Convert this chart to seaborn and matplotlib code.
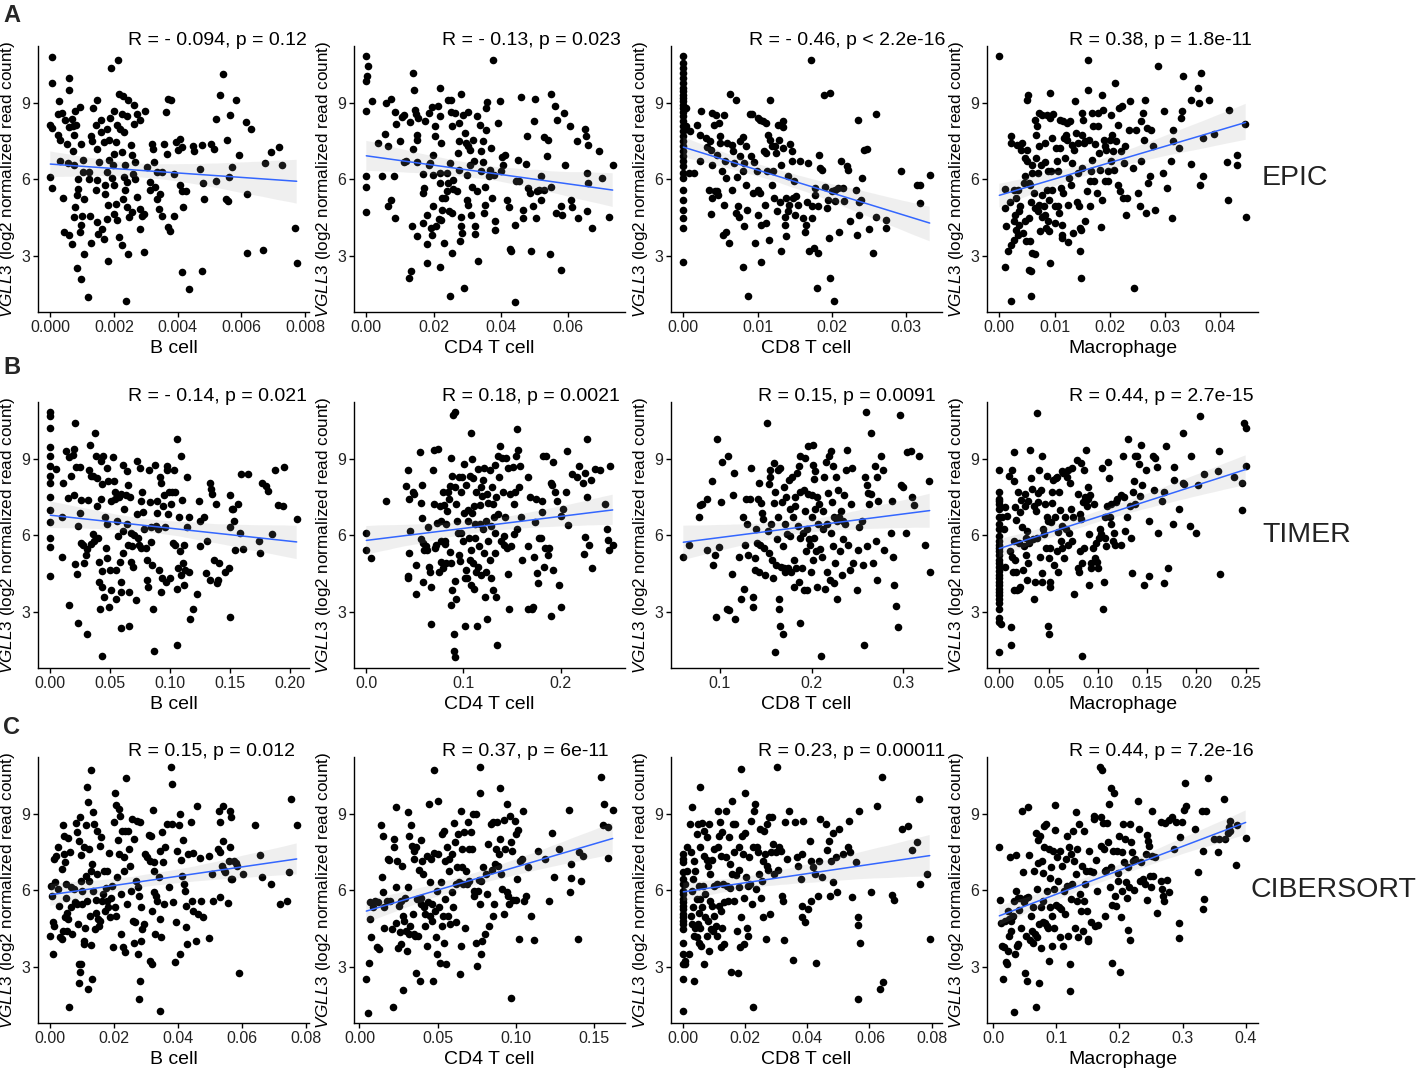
import matplotlib
matplotlib.use("Agg")
import matplotlib.pyplot as plt
import seaborn as sns
import pandas as pd
from matplotlib.collections import PolyCollection
from matplotlib.ticker import FormatStrFormatter

sns.set_style("ticks")
plt.rcParams['font.family'] = ['Liberation Sans', 'DejaVu Sans']
plt.rcParams['mathtext.fontset'] = 'custom'
plt.rcParams['mathtext.it'] = 'Liberation Sans:italic'
plt.rcParams['mathtext.rm'] = 'Liberation Sans'

# ---------------- data ----------------
row_names = ["EPIC", "TIMER", "CIBERSORT"]
cell_types = ["B cell", "CD4 T cell", "CD8 T cell", "Macrophage"]
stats = [
    ["R = - 0.094, p = 0.12", "R = - 0.13, p = 0.023", "R = - 0.46, p < 2.2e-16", "R = 0.38, p = 1.8e-11"],
    ["R = - 0.14, p = 0.021", "R = 0.18, p = 0.0021", "R = 0.15, p = 0.0091", "R = 0.44, p = 2.7e-15"],
    ["R = 0.15, p = 0.012", "R = 0.37, p = 6e-11", "R = 0.23, p = 0.00011", "R = 0.44, p = 7.2e-16"],
]
x_ticks = [
    [[0, 0.002, 0.004, 0.006, 0.008], [0, 0.02, 0.04, 0.06], [0, 0.01, 0.02, 0.03], [0, 0.01, 0.02, 0.03, 0.04]],
    [[0, 0.05, 0.10, 0.15, 0.20], [0.0, 0.1, 0.2], [0.1, 0.2, 0.3], [0, 0.05, 0.10, 0.15, 0.20, 0.25]],
    [[0, 0.02, 0.04, 0.06, 0.08], [0, 0.05, 0.10, 0.15], [0, 0.02, 0.04, 0.06, 0.08], [0.0, 0.1, 0.2, 0.3, 0.4]],
]
x_fmt = [["%.3f", "%.2f", "%.2f", "%.2f"],
         ["%.2f", "%.1f", "%.1f", "%.2f"],
         ["%.2f", "%.2f", "%.2f", "%.1f"]]
y_ticks = [3, 6, 9]

epic_b = [(0.00004,10.8),(0.00004,9.8),(0.0,8.15),(0.00004,8.0),(0.0,6.1),(0.00004,5.67),(0.00059,10.0),(0.00059,9.5),(0.00026,9.07),(0.00023,8.58),(0.00036,8.6),(0.00047,8.32),(0.00067,8.36),(0.00059,8.06),(0.0007,8.08),(0.00081,8.15),(0.00092,8.84),(0.00077,8.67),(0.00025,7.73),(0.00031,7.53),(0.00051,7.4),(0.00075,7.73),(0.0007,7.1),(0.00096,7.4),(0.00031,6.72),(0.00054,6.65),(0.00075,6.58),(0.00104,6.76),(0.00104,6.29),(0.00087,6.0),(0.0004,5.27),(0.00044,3.93),(0.00059,3.82),(0.00068,3.47),(0.00073,4.52),(0.00077,4.91),(0.00083,5.37),(0.00088,5.63),(0.00096,4.19),(0.00101,4.58),(0.00106,5.24),(0.00094,3.93),(0.00085,2.53),(0.00096,2.1),(0.00106,3.06),(0.00119,1.37),(0.00125,4.58),(0.0012,6.03),(0.0012,6.29),(0.00132,7.49),(0.00129,7.7),(0.00144,8.12),(0.00134,8.8),(0.00148,9.1),(0.00158,8.32),(0.00158,7.86),(0.00146,7.2),(0.00153,6.68),(0.00148,5.96),(0.00142,5.57),(0.00148,4.32),(0.00163,4.06),(0.0015,3.86),(0.00127,3.51),(0.00177,4.45),(0.00181,2.81),(0.00168,3.67),(0.00182,4.98),(0.00171,5.43),(0.00171,5.76),(0.00179,6.29),(0.00184,6.75),(0.00168,7.47),(0.00184,7.53),(0.00179,7.96),(0.00189,8.41),(0.00191,10.38),(0.002,8.67),(0.0021,8.12),(0.00205,7.47),(0.002,7.0),(0.00198,6.55),(0.00194,6.05),(0.002,5.76),(0.00205,5.04),(0.002,4.65),(0.0021,4.39),(0.00215,3.73),(0.00226,3.44),(0.00212,10.69),(0.00216,9.37),(0.00229,9.28),(0.00224,8.58),(0.0022,7.99),(0.00241,8.49),(0.00245,9.1),(0.00233,7.86),(0.00226,7.07),(0.00236,6.55),(0.00231,6.09),(0.00241,5.9),(0.00236,5.57),(0.00229,5.24),(0.00241,4.91),(0.00246,4.52),(0.00244,3.08),(0.00238,1.24),(0.00257,4.71),(0.00264,8.91),(0.00272,8.58),(0.00262,8.19),(0.00252,7.36),(0.00257,6.97),(0.00267,6.68),(0.0026,6.22),(0.00267,6.03),(0.00272,5.3),(0.00281,4.84),(0.00288,4.58),(0.00281,8.35),(0.00283,4.06),(0.00296,8.67),(0.00293,4.65),(0.00295,3.14),(0.00304,6.48),(0.00314,5.9),(0.00312,5.57),(0.00319,7.4),(0.00324,7.18),(0.00327,6.68),(0.00335,6.29),(0.00328,5.7),(0.00335,5.24),(0.0034,4.82),(0.0035,6.29),(0.00345,5.43),(0.0035,4.58),(0.00358,7.4),(0.00362,8.65),(0.00371,9.17),(0.00379,9.1),(0.00366,7.0),(0.00371,4.12),(0.00376,3.99),(0.00389,4.58),(0.00387,6.22),(0.00395,7.47),(0.00402,7.14),(0.00406,5.76),(0.00408,7.6),(0.00413,7.27),(0.00413,5.54),(0.00418,4.91),(0.00413,2.38),(0.00426,5.54),(0.00435,1.7),(0.00449,7.31),(0.00452,7.1),(0.0047,6.42),(0.00477,7.34),(0.0048,5.86),(0.00483,5.21),(0.00477,2.42),(0.00504,7.4),(0.00515,7.2),(0.0052,5.93),(0.00522,8.38),(0.00532,9.33),(0.00541,10.15),(0.00551,5.21),(0.00558,5.14),(0.00556,7.53),(0.00562,6.09),(0.00566,8.54),(0.00571,6.48),(0.00582,9.1),(0.00593,6.97),(0.00614,8.25),(0.00618,5.43),(0.00619,3.11),(0.00631,7.99),(0.00668,3.24),(0.00675,6.65),(0.00694,7.07),(0.00718,7.27),(0.00728,6.55),(0.00769,4.09),(0.00774,2.71)]

epic_cd4 = [(0.0,10.83),(0.0005,10.44),(0.0002,10.05),(0.0,9.85),(0.0,8.7),(0.0,6.12),(0.0,5.7),(0.0,4.72),(0.0017,9.09),(0.0034,7.43),(0.0047,6.12),(0.0056,7.78),(0.0059,9.0),(0.0064,4.94),(0.0064,7.33),(0.0074,9.17),(0.0074,5.2),(0.0082,6.12),(0.0084,4.5),(0.0086,8.65),(0.0089,8.17),(0.0101,7.49),(0.0105,8.44),(0.0113,8.54),(0.0111,6.7),(0.0117,6.73),(0.0128,2.12),(0.0132,2.41),(0.0131,8.25),(0.0137,4.15),(0.014,10.18),(0.0143,9.52),(0.0145,8.74),(0.0147,8.57),(0.015,7.56),(0.014,7.2),(0.0152,6.7),(0.015,3.76),(0.0153,8.41),(0.0152,7.73),(0.0167,4.28),(0.0169,5.46),(0.0171,5.66),(0.0169,6.21),(0.0175,8.28),(0.0179,2.71),(0.0179,3.46),(0.0179,4.6),(0.0185,8.61),(0.0186,6.58),(0.0189,6.64),(0.0194,8.83),(0.0194,3.82),(0.0193,4.09),(0.0199,6.97),(0.0199,6.16),(0.0199,4.94),(0.0204,7.69),(0.0204,8.08),(0.0206,4.15),(0.0212,8.87),(0.022,9.59),(0.0219,8.48),(0.0222,7.43),(0.022,6.25),(0.022,5.85),(0.0224,5.27),(0.0226,4.81),(0.0222,4.41),(0.0216,4.45),(0.0219,2.54),(0.0231,3.5),(0.0234,5.27),(0.0241,5.53),(0.0244,5.85),(0.0239,6.25),(0.0244,9.13),(0.0252,9.13),(0.0252,8.65),(0.0256,8.08),(0.0248,6.64),(0.0246,4.74),(0.0254,4.67),(0.0258,5.99),(0.0258,5.63),(0.0254,3.1),(0.0249,1.4),(0.0264,8.61),(0.0268,5.53),(0.0271,7.03),(0.0275,7.49),(0.0274,6.38),(0.0276,8.21),(0.0281,9.35),(0.0281,4.54),(0.0281,4.15),(0.0283,3.89),(0.0278,3.56),(0.029,1.72),(0.0288,8.54),(0.0293,7.82),(0.0295,7.43),(0.0301,7.3),(0.0298,5.2),(0.0302,5.0),(0.0298,6.16),(0.0302,8.65),(0.0308,7.17),(0.0308,6.58),(0.0311,4.6),(0.0318,7.56),(0.032,6.73),(0.0313,5.72),(0.0322,4.15),(0.0324,3.85),(0.0328,5.53),(0.0332,2.8),(0.0328,8.48),(0.0338,8.15),(0.034,7.13),(0.0342,6.31),(0.0347,7.49),(0.0347,6.7),(0.0352,5.0),(0.035,4.67),(0.0354,5.72),(0.0357,8.8),(0.0357,7.95),(0.036,9.04),(0.0364,6.12),(0.0367,6.38),(0.037,7.23),(0.0372,5.27),(0.0377,10.7),(0.038,6.18),(0.0382,4.02),(0.0382,4.35),(0.0392,8.21),(0.0397,9.09),(0.04,6.31),(0.0403,6.86),(0.0406,6.58),(0.0411,6.97),(0.0419,5.2),(0.0424,4.9),(0.0426,3.27),(0.0431,3.17),(0.0441,4.22),(0.0441,1.2),(0.0446,5.92),(0.0451,6.77),(0.0455,5.92),(0.0461,9.22),(0.0465,4.48),(0.0465,4.81),(0.0473,6.6),(0.0477,7.69),(0.0481,5.66),(0.0485,5.46),(0.0488,3.17),(0.0495,4.94),(0.0498,8.28),(0.05,9.17),(0.0505,4.5),(0.0508,5.55),(0.0512,5.59),(0.0518,6.12),(0.052,5.2),(0.0529,7.65),(0.0529,5.59),(0.0537,6.9),(0.0539,7.56),(0.0545,3.06),(0.0549,5.72),(0.0549,9.35),(0.0562,8.87),(0.0567,8.35),(0.0564,4.67),(0.0579,2.45),(0.0577,4.94),(0.0581,4.6),(0.0587,8.61),(0.0589,6.58),(0.0606,8.08),(0.0607,5.2),(0.061,4.9),(0.0625,7.49),(0.0628,4.5),(0.065,7.98),(0.0653,7.69),(0.0656,6.25),(0.0658,5.85),(0.066,7.36),(0.0656,4.74),(0.0672,4.09),(0.0692,7.13),(0.0699,6.05),(0.0722,4.54),(0.0732,6.55)]

epic_cd8 = [(0,10.83),(0,10.57),(0,10.38),(0,10.18),(0,9.98),(0,9.79),(0,9.59),(0,9.46),(0,9.33),(0,9.2),(0,9.07),(0,8.93),(0,8.8),(0,8.65),(0,8.48),(0,8.28),(0,8.08),(0,7.89),(0,7.69),(0,7.49),(0,7.3),(0,7.1),(0,6.9),(0,6.71),(0,6.51),(0,6.25),(0,6.05),(0,5.59),(0,5.2),(0,4.81),(0,4.48),(0,4.09),(0,2.77),(0.0004,8.8),(0.0003,8.1),(0.0009,7.91),(0.0008,6.25),(0.0014,6.25),(0.0018,8.12),(0.0024,8.7),(0.0022,6.73),(0.0023,7.75),(0.003,7.62),(0.0032,7.26),(0.0036,7.49),(0.0037,7.17),(0.0039,8.61),(0.0041,8.15),(0.0035,5.59),(0.0037,4.64),(0.0038,6.58),(0.0039,5.26),(0.0043,5.53),(0.0044,8.52),(0.0045,6.97),(0.0046,5.53),(0.0048,8.21),(0.0049,7.69),(0.005,7.43),(0.0047,5.4),(0.0052,6.31),(0.0055,8.52),(0.0056,6.71),(0.0057,6.05),(0.0055,5.0),(0.0054,3.82),(0.0058,3.95),(0.0059,7.43),(0.0062,3.5),(0.0063,9.35),(0.0065,7.36),(0.0065,5.59),(0.0068,6.64),(0.0067,7.1),(0.0071,9.13),(0.0071,4.67),(0.0072,6.08),(0.0074,4.94),(0.0075,4.54),(0.0076,7.49),(0.0077,6.9),(0.008,7.65),(0.0081,6.31),(0.0082,6.64),(0.0082,4.15),(0.0081,2.54),(0.0084,7.3),(0.0085,5.79),(0.0086,4.81),(0.0087,1.4),(0.009,8.57),(0.0091,6.9),(0.0093,8.57),(0.0094,5.46),(0.0095,6.68),(0.0096,3.5),(0.0099,6.31),(0.01,4.61),(0.0101,8.41),(0.0101,5.59),(0.0103,8.34),(0.0104,5.46),(0.0105,4.22),(0.0105,2.75),(0.0108,8.28),(0.0109,7.1),(0.011,5.0),(0.0111,8.21),(0.0111,4.28),(0.0112,7.03),(0.0113,6.31),(0.0114,7.75),(0.0116,3.63),(0.0117,9.13),(0.0117,7.56),(0.0119,5.79),(0.012,7.3),(0.0121,6.31),(0.0122,5.26),(0.0123,7.3),(0.0125,7.03),(0.0126,4.74),(0.0128,8.15),(0.0129,7.56),(0.013,5.13),(0.0131,3.17),(0.0132,6.58),(0.0134,7.23),(0.0135,8.28),(0.0135,8.04),(0.0137,4.54),(0.0137,4.22),(0.0138,5.26),(0.0139,3.76),(0.0141,6.12),(0.0141,4.74),(0.0143,5.0),(0.0144,7.39),(0.0146,7.1),(0.0147,6.71),(0.0148,5.26),(0.0149,5.92),(0.015,4.61),(0.0152,5.33),(0.0155,5.0),(0.0157,6.71),(0.0161,4.48),(0.0164,3.95),(0.0165,4.22),(0.0166,5.13),(0.0168,6.64),(0.017,3.17),(0.0172,10.7),(0.0173,4.94),(0.0174,4.48),(0.0176,3.3),(0.0177,5.66),(0.0178,5.4),(0.018,1.73),(0.0181,4.94),(0.0182,3.1),(0.0183,6.97),(0.0184,6.44),(0.0187,6.38),(0.0189,9.3),(0.0191,5.72),(0.0193,4.87),(0.0195,5.2),(0.0196,3.69),(0.0197,2.12),(0.0198,9.39),(0.02,5.53),(0.0203,1.23),(0.0204,5.59),(0.0205,5.16),(0.0209,5.66),(0.021,3.95),(0.0212,6.71),(0.0215,5.66),(0.0216,5.16),(0.0221,6.51),(0.0222,6.38),(0.0225,4.35),(0.0233,5.59),(0.0234,3.82),(0.0235,8.34),(0.0237,5.13),(0.0237,4.61),(0.0239,5.2),(0.0241,6.05),(0.0243,7.17),(0.0247,7.2),(0.025,4.06),(0.0255,3.1),(0.026,8.57),(0.0259,4.54),(0.0273,4.41),(0.0273,4.09),(0.0294,6.31),(0.0315,5.79),(0.0319,5.79),(0.0319,5.07),(0.0332,6.18)]

epic_mac = [(0.0,10.83),(0.0011,5.63),(0.001,4.87),(0.001,2.54),(0.0013,4.15),(0.0016,3.17),(0.002,5.13),(0.0022,1.23),(0.0022,3.43),(0.0022,7.69),(0.0022,7.43),(0.0026,5.59),(0.0026,4.35),(0.0026,3.63),(0.0029,4.61),(0.003,4.02),(0.003,5.26),(0.0032,7.36),(0.0034,3.82),(0.0034,5.59),(0.0035,4.74),(0.0036,4.22),(0.0038,4.94),(0.004,7.17),(0.0041,7.43),(0.0042,3.89),(0.0044,5.85),(0.0046,4.35),(0.0047,6.84),(0.0047,6.12),(0.0048,3.59),(0.005,7.17),(0.005,6.71),(0.005,9.13),(0.0052,9.33),(0.0053,4.48),(0.0053,5.85),(0.0054,2.45),(0.0056,5.79),(0.0056,3.56),(0.0058,2.41),(0.0058,1.4),(0.0058,5.13),(0.0059,6.58),(0.006,6.25),(0.006,3.1),(0.0062,5.46),(0.0064,4.87),(0.0065,3.06),(0.0065,8.34),(0.0066,7.75),(0.0066,6.84),(0.0068,8.08),(0.007,6.25),(0.007,4.74),(0.0071,7.3),(0.0072,5.0),(0.0072,8.61),(0.0074,3.98),(0.0076,6.58),(0.0077,4.54),(0.0077,8.54),(0.0078,5.4),(0.008,4.94),(0.0082,4.61),(0.0083,7.43),(0.0083,6.68),(0.0084,4.09),(0.0086,8.54),(0.0086,5.59),(0.0088,6.31),(0.0089,4.37),(0.009,5.2),(0.009,3.98),(0.0092,9.39),(0.0092,8.41),(0.0092,2.71),(0.0094,6.31),(0.0095,7.62),(0.0096,5.59),(0.0098,8.57),(0.01,4.94),(0.0101,4.28),(0.0102,7.23),(0.0104,6.71),(0.0106,6.31),(0.0107,4.94),(0.0108,4.67),(0.011,8.34),(0.011,7.23),(0.0112,5.66),(0.0113,4.22),(0.0113,3.82),(0.0114,3.69),(0.0116,8.28),(0.0116,5.46),(0.0118,7.62),(0.0119,6.84),(0.012,7.75),(0.0122,8.21),(0.0122,7.56),(0.0124,3.53),(0.0125,5.0),(0.0126,6.05),(0.0128,8.28),(0.013,5.79),(0.0131,7.36),(0.0132,6.64),(0.0134,3.89),(0.0136,7.17),(0.0137,9.09),(0.0138,7.82),(0.014,5.13),(0.0142,7.43),(0.0143,6.25),(0.0144,4.94),(0.0146,4.09),(0.0146,3.17),(0.0148,2.12),(0.0148,4.02),(0.0149,7.75),(0.0149,8.61),(0.015,6.44),(0.0152,8.34),(0.0154,7.43),(0.0155,7.49),(0.0156,4.35),(0.0158,5.53),(0.016,9.52),(0.0161,10.7),(0.0162,7.56),(0.0164,5.92),(0.0164,4.94),(0.0166,6.31),(0.0167,8.61),(0.0168,6.77),(0.017,8.08),(0.0172,5.92),(0.0174,7.39),(0.0176,5.46),(0.0178,8.08),(0.0179,8.61),(0.018,7.03),(0.0182,6.38),(0.0184,4.11),(0.0185,5.2),(0.0186,9.33),(0.0188,8.74),(0.019,7.56),(0.0191,7.3),(0.0192,5.92),(0.0194,7.17),(0.0196,6.31),(0.0197,5.92),(0.02,7.56),(0.0202,6.71),(0.0203,8.54),(0.0204,7.75),(0.0206,7.1),(0.0208,6.38),(0.021,9.79),(0.0212,7.49),(0.0214,5.79),(0.0215,8.15),(0.0216,8.8),(0.0218,5.53),(0.0221,7.1),(0.0222,8.87),(0.0224,5.26),(0.0226,6.64),(0.0227,7.3),(0.023,4.61),(0.0232,5.26),(0.0234,7.95),(0.0236,9.09),(0.0242,6.44),(0.0244,1.73),(0.0248,7.95),(0.0251,5.46),(0.0254,4.94),(0.0256,8.28),(0.0257,6.71),(0.026,8.61),(0.0262,7.56),(0.0263,9.13),(0.0266,4.67),(0.0268,8.02),(0.027,5.85),(0.0272,6.12),(0.0275,7.95),(0.0278,7.3),(0.0281,4.81),(0.0287,10.44),(0.0296,6.25),(0.0299,8.7),(0.0304,5.66),(0.031,6.71),(0.0312,4.48),(0.0314,7.95),(0.0314,7.49),(0.0326,7.23),(0.0329,8.41),(0.033,8.7),(0.0332,10.05),(0.0347,9.13),(0.0347,6.6),(0.036,9.59),(0.0362,9.0),(0.0364,5.79),(0.0366,10.18),(0.0368,7.62),(0.0368,6.12),(0.038,9.13),(0.0389,7.78),(0.0413,6.68),(0.0414,5.2),(0.0416,8.74),(0.043,6.97),(0.043,6.55),(0.0444,8.17),(0.0446,4.54)]

timer_b = [(0,10.84),(0,10.68),(0,10.2),(0,9.48),(0,9.13),(0,8.71),(0,8.33),(0,8.04),(0,7.51),(0,7.0),(0,6.53),(0,5.91),(0,5.53),(0,4.41),(0.0047,8.6),(0.0094,6.71),(0.0094,5.17),(0.0108,8.07),(0.013,9.31),(0.0144,7.48),(0.0158,3.27),(0.0158,9.08),(0.0172,8.33),(0.0186,9.17),(0.0194,7.57),(0.02,9.4),(0.0205,10.41),(0.0205,4.87),(0.0213,8.68),(0.0222,4.47),(0.0227,2.55),(0.0233,6.37),(0.0244,8.68),(0.0249,6.87),(0.0255,5.71),(0.026,7.4),(0.0269,5.64),(0.0283,4.91),(0.0296,5.24),(0.0305,5.48),(0.031,2.11),(0.0316,7.4),(0.0324,8.57),(0.0332,9.57),(0.0338,5.67),(0.0343,8.33),(0.0352,6.04),(0.036,8.33),(0.0366,5.77),(0.0371,10.01),(0.0379,9.11),(0.0388,8.24),(0.0393,7.17),(0.0399,5.91),(0.0407,4.17),(0.041,4.97),(0.0416,3.11),(0.0421,7.44),(0.0421,8.91),(0.0427,4.6),(0.0427,1.27),(0.0435,8.01),(0.0435,3.97),(0.0443,9.11),(0.0449,3.57),(0.0454,6.71),(0.0463,5.51),(0.0471,6.44),(0.0476,8.64),(0.0476,5.11),(0.0482,8.15),(0.049,3.17),(0.0499,4.64),(0.0504,7.37),(0.051,3.84),(0.0526,9.08),(0.0532,8.15),(0.0537,7.71),(0.0537,7.44),(0.0546,4.64),(0.0546,3.51),(0.056,6.57),(0.0565,5.97),(0.0573,7.51),(0.0582,4.97),(0.0587,7.64),(0.0593,2.37),(0.0593,3.77),(0.0593,4.17),(0.0609,8.77),(0.0609,6.17),(0.0609,5.31),(0.0615,7.04),(0.0629,7.57),(0.0637,8.51),(0.0643,6.44),(0.0648,7.97),(0.0648,5.64),(0.0656,2.44),(0.0656,3.77),(0.0665,7.51),(0.067,6.11),(0.0676,4.97),(0.0684,5.57),(0.0693,4.77),(0.0698,6.01),(0.0712,3.48),(0.072,8.91),(0.0726,6.84),(0.0731,5.91),(0.074,5.64),(0.0748,8.64),(0.0753,7.35),(0.0759,5.51),(0.0767,7.71),(0.0776,6.91),(0.0781,6.24),(0.0795,5.51),(0.0803,5.04),(0.0809,4.24),(0.0814,3.97),(0.0823,8.55),(0.0831,7.31),(0.0837,6.33),(0.0842,5.75),(0.085,4.84),(0.0859,3.11),(0.0864,1.44),(0.087,8.77),(0.0878,6.37),(0.0886,6.87),(0.0892,7.37),(0.0897,6.24),(0.0906,4.64),(0.0914,8.31),(0.092,8.04),(0.0925,3.77),(0.0933,4.31),(0.0942,7.17),(0.0947,7.57),(0.0953,6.31),(0.0961,4.17),(0.097,8.71),(0.0975,8.57),(0.0981,6.84),(0.0989,7.71),(0.0997,4.31),(0.1008,7.24),(0.1017,7.71),(0.1025,5.71),(0.103,8.57),(0.1036,5.64),(0.1044,7.71),(0.1053,1.71),(0.1058,9.8),(0.1058,3.91),(0.1064,4.71),(0.1072,6.71),(0.108,5.37),(0.1086,9.11),(0.1091,4.44),(0.11,7.4),(0.1108,4.91),(0.1114,4.04),(0.1119,5.64),(0.1127,4.64),(0.1136,8.31),(0.1141,6.31),(0.1155,6.71),(0.1155,4.57),(0.1163,2.73),(0.1191,3.11),(0.1224,3.71),(0.1238,7.35),(0.1247,5.57),(0.1252,6.55),(0.128,6.73),(0.1302,4.51),(0.1307,5.77),(0.1335,8.04),(0.1341,7.84),(0.133,4.24),(0.1349,7.64),(0.1363,5.04),(0.1385,7.24),(0.1391,4.11),(0.1396,4.24),(0.1404,4.91),(0.146,4.57),(0.1487,4.71),(0.1496,2.8),(0.1496,6.33),(0.1501,7.57),(0.1515,7.04),(0.1524,7.04),(0.153,6.57),(0.1543,5.44),(0.1562,7.24),(0.1579,6.11),(0.159,8.41),(0.1607,5.48),(0.1645,8.41),(0.1737,5.77),(0.1751,5.31),(0.1765,8.04),(0.18,7.93),(0.1812,7.75),(0.1848,6.04),(0.1875,8.57),(0.1903,7.21),(0.1939,7.17),(0.195,8.68),(0.2055,6.64)]

timer_cd4 = [(0.0,6.11),(0.0,5.44),(0.0051,5.11),(0.0205,7.35),(0.0433,8.57),(0.0406,7.93),(0.044,7.44),(0.045,6.17),(0.044,5.31),(0.0433,4.41),(0.0433,4.31),(0.0484,7.71),(0.0494,7.61),(0.0508,4.84),(0.0512,3.71),(0.0552,9.27),(0.0563,7.27),(0.0563,5.84),(0.057,6.68),(0.0576,7.97),(0.0587,5.71),(0.0587,4.17),(0.0597,5.44),(0.061,5.57),(0.0621,5.44),(0.0638,6.33),(0.0644,4.77),(0.0655,4.57),(0.0665,3.97),(0.0665,2.53),(0.0689,8.57),(0.0699,7.24),(0.0699,9.35),(0.0706,5.51),(0.0716,5.64),(0.0733,6.47),(0.074,9.4),(0.0747,4.55),(0.0757,7.17),(0.0767,6.55),(0.0774,5.77),(0.0774,4.97),(0.0791,7.71),(0.0791,4.71),(0.0801,7.21),(0.0808,5.77),(0.0815,5.67),(0.0825,4.91),(0.0825,6.44),(0.0835,6.97),(0.0842,7.71),(0.0849,7.44),(0.0859,5.35),(0.0859,7.93),(0.087,9.04),(0.0876,4.91),(0.0876,3.27),(0.0883,8.33),(0.0883,3.84),(0.0893,10.73),(0.0904,2.11),(0.091,10.84),(0.091,7.91),(0.0904,1.44),(0.091,1.24),(0.0917,4.2),(0.0928,3.51),(0.0928,7.24),(0.0938,6.55),(0.0945,6.11),(0.0951,5.24),(0.0955,8.31),(0.0962,5.0),(0.0972,7.71),(0.0979,6.11),(0.0986,8.31),(0.0996,5.77),(0.1006,8.81),(0.1006,6.87),(0.1013,4.31),(0.102,2.44),(0.103,7.97),(0.103,4.64),(0.104,4.31),(0.1047,7.0),(0.1047,6.55),(0.1054,5.91),(0.1064,8.33),(0.1064,5.04),(0.1074,10.01),(0.1074,5.44),(0.1081,4.04),(0.1088,9.0),(0.1088,6.87),(0.1098,8.24),(0.1098,4.91),(0.1108,7.17),(0.1108,3.91),(0.1115,6.44),(0.1122,5.91),(0.1132,7.71),(0.1132,4.57),(0.1142,2.44),(0.1149,4.77),(0.1149,8.6),(0.1156,5.57),(0.1166,7.21),(0.1166,6.44),(0.1176,7.91),(0.1183,4.44),(0.119,7.53),(0.12,6.24),(0.12,8.17),(0.1211,5.31),(0.1217,8.64),(0.1224,3.57),(0.1234,6.57),(0.1234,4.57),(0.1245,2.73),(0.1245,7.64),(0.1251,7.27),(0.1258,5.77),(0.1269,8.57),(0.1269,5.04),(0.1279,6.37),(0.1286,4.31),(0.1292,7.91),(0.1303,7.24),(0.1303,3.84),(0.1313,6.71),(0.132,8.77),(0.132,5.31),(0.1327,6.11),(0.1337,7.51),(0.1337,3.57),(0.1347,1.71),(0.1354,9.13),(0.1361,6.84),(0.1371,8.31),(0.1381,9.51),(0.1388,5.77),(0.1395,9.04),(0.1405,7.71),(0.1415,5.97),(0.1422,5.64),(0.1429,6.71),(0.1439,9.04),(0.1449,5.51),(0.1456,4.47),(0.1463,8.64),(0.1473,3.11),(0.1483,7.64),(0.149,5.57),(0.1507,8.68),(0.1517,7.24),(0.1524,6.04),(0.1531,7.71),(0.1541,9.11),(0.1552,10.17),(0.1552,6.24),(0.1565,9.35),(0.1575,7.91),(0.1586,8.71),(0.1592,6.71),(0.1599,5.04),(0.1661,3.11),(0.1668,8.31),(0.1668,5.57),(0.1688,7.51),(0.1702,3.11),(0.1712,3.17),(0.1722,5.17),(0.1736,6.51),(0.1746,7.44),(0.1756,4.51),(0.1763,4.11),(0.178,5.91),(0.1797,5.91),(0.1804,7.37),(0.1814,6.91),(0.1824,9.13),(0.1831,4.77),(0.1838,5.51),(0.1848,9.11),(0.1872,5.24),(0.1882,5.51),(0.1899,2.84),(0.1906,8.07),(0.1916,7.97),(0.1927,8.87),(0.1927,4.64),(0.194,7.71),(0.196,7.37),(0.1985,4.04),(0.2002,6.77),(0.2008,3.17),(0.2029,7.04),(0.2053,7.71),(0.2063,9.31),(0.2077,6.4),(0.2121,8.41),(0.2172,8.31),(0.2189,8.71),(0.2234,8.04),(0.224,5.27),(0.2247,5.94),(0.2257,8.47),(0.2268,9.8),(0.2268,7.51),(0.2292,5.64),(0.2309,8.17),(0.2326,4.73),(0.236,8.6),(0.2404,8.57),(0.2462,7.24),(0.2479,6.24),(0.2486,5.8),(0.2496,5.44),(0.2513,8.71),(0.2537,5.64)]

timer_cd8 = [(0.0604,5.17),(0.0665,5.61),(0.0774,6.73),(0.0785,7.21),(0.081,7.24),(0.0857,7.44),(0.0864,5.44),(0.0919,8.15),(0.093,4.84),(0.0944,5.24),(0.0955,2.81),(0.0966,9.8),(0.0991,5.53),(0.1009,7.31),(0.1027,8.87),(0.1081,3.11),(0.1089,9.11),(0.1099,3.08),(0.1136,4.47),(0.1146,7.57),(0.1161,8.47),(0.1172,2.73),(0.1208,5.17),(0.1233,3.51),(0.1255,6.73),(0.1269,3.91),(0.128,5.64),(0.1291,7.44),(0.1298,6.44),(0.1306,5.24),(0.1335,7.44),(0.1342,8.64),(0.1364,3.57),(0.1364,3.17),(0.139,5.11),(0.139,4.64),(0.1399,6.24),(0.1407,5.71),(0.1414,7.44),(0.1425,4.57),(0.1425,8.07),(0.1436,5.64),(0.1451,7.27),(0.1461,6.87),(0.1472,6.64),(0.1479,5.51),(0.1497,4.44),(0.1515,10.41),(0.1523,6.17),(0.1534,8.01),(0.1534,5.31),(0.1544,8.57),(0.1552,8.31),(0.1559,6.44),(0.157,5.04),(0.158,4.31),(0.1588,8.84),(0.1595,7.27),(0.1606,1.4),(0.1606,7.71),(0.1617,4.84),(0.162,5.84),(0.1631,8.55),(0.1631,6.71),(0.1642,3.51),(0.1642,3.11),(0.1653,8.64),(0.166,2.44),(0.1667,4.77),(0.1678,7.31),(0.1689,2.11),(0.1689,5.57),(0.1696,4.71),(0.1703,7.91),(0.1714,6.44),(0.1714,4.57),(0.1725,7.51),(0.1732,6.04),(0.174,4.71),(0.175,8.17),(0.1761,5.97),(0.1768,7.04),(0.1776,4.57),(0.1786,8.31),(0.1797,6.71),(0.1805,3.97),(0.1812,5.04),(0.1823,7.51),(0.1823,7.17),(0.1833,4.71),(0.1841,8.44),(0.1848,6.37),(0.1859,8.73),(0.1859,4.17),(0.187,9.11),(0.1877,2.55),(0.188,5.91),(0.188,7.71),(0.1895,4.71),(0.1906,6.11),(0.1913,7.77),(0.192,3.84),(0.1931,9.04),(0.1931,6.97),(0.1942,5.37),(0.1949,3.84),(0.1956,6.24),(0.1967,9.51),(0.1967,7.64),(0.1978,5.84),(0.1985,5.64),(0.1993,4.57),(0.2003,7.57),(0.2003,6.71),(0.2014,9.57),(0.2014,5.04),(0.2021,8.77),(0.2029,8.2),(0.2029,5.91),(0.204,8.51),(0.204,7.04),(0.205,5.37),(0.2058,3.97),(0.2065,7.51),(0.2076,6.44),(0.2087,7.24),(0.2094,5.48),(0.2101,1.27),(0.2112,5.17),(0.2123,6.97),(0.213,6.24),(0.2137,8.31),(0.2148,3.91),(0.2159,8.87),(0.2166,6.44),(0.2173,4.57),(0.2184,7.67),(0.2195,9.11),(0.2202,4.24),(0.2209,6.11),(0.2209,9.31),(0.222,7.31),(0.2231,8.73),(0.2238,5.57),(0.2246,6.71),(0.2246,4.11),(0.2257,4.91),(0.2268,8.31),(0.2275,6.57),(0.2282,3.51),(0.2293,7.77),(0.2304,6.71),(0.2311,5.37),(0.2318,6.97),(0.2329,4.44),(0.234,5.84),(0.2347,6.57),(0.2354,7.57),(0.2365,6.44),(0.2376,8.57),(0.2383,9.37),(0.2401,5.64),(0.2419,4.64),(0.2427,7.24),(0.2437,8.64),(0.2448,4.91),(0.2491,3.84),(0.251,5.44),(0.2521,6.31),(0.2546,6.57),(0.2564,4.84),(0.2571,1.71),(0.2582,8.31),(0.2593,10.84),(0.26,7.97),(0.2607,5.57),(0.2618,7.67),(0.2629,7.24),(0.2644,10.01),(0.2644,7.64),(0.2672,4.91),(0.269,8.71),(0.2701,5.77),(0.2709,8.31),(0.2716,4.24),(0.2727,7.37),(0.2752,9.11),(0.2781,8.57),(0.2788,5.44),(0.287,6.11),(0.2882,7.35),(0.2889,5.17),(0.2896,4.04),(0.2925,3.24),(0.2943,2.41),(0.2969,10.71),(0.298,7.97),(0.2991,7.91),(0.3034,6.11),(0.3041,9.27),(0.3088,9.31),(0.3099,7.51),(0.3113,7.21),(0.3171,9.11),(0.3233,5.64),(0.328,8.15),(0.3287,4.55)]

timer_mac = [(0,8.55),(0,7.71),(0,7.44),(0,7.35),(0,7.24),(0,7.04),(0,6.71),(0,6.44),(0,6.24),(0,5.96),(0,5.77),(0,5.64),(0,5.51),(0,5.37),(0,5.21),(0,5.04),(0,4.91),(0,4.77),(0,4.6),(0,4.44),(0,4.31),(0,4.17),(0,4.04),(0,3.91),(0,3.77),(0,3.64),(0,3.51),(0,3.35),(0,3.11),(0,2.77),(0,2.6),(0,1.4),(0.002,2.51),(0.0027,6.71),(0.0044,6.24),(0.0054,7.11),(0.0061,4.77),(0.0077,6.77),(0.0101,8.33),(0.0111,5.37),(0.0121,2.41),(0.0121,1.71),(0.0128,8.57),(0.0128,5.17),(0.0135,4.57),(0.0145,5.77),(0.0145,3.84),(0.0151,9.27),(0.0151,8.15),(0.0155,5.04),(0.0162,7.11),(0.0168,6.6),(0.0168,4.57),(0.0178,3.84),(0.0188,7.71),(0.0195,5.71),(0.0202,3.91),(0.0212,6.91),(0.0212,3.97),(0.0222,7.4),(0.0229,6.31),(0.0236,4.64),(0.0246,5.57),(0.0256,7.61),(0.0262,7.17),(0.0269,5.91),(0.0269,5.24),(0.0276,4.24),(0.0279,6.17),(0.0289,4.91),(0.0296,7.35),(0.0303,5.71),(0.0313,9.35),(0.0323,8.24),(0.033,7.84),(0.0337,5.84),(0.0347,3.51),(0.0357,7.17),(0.0363,4.17),(0.037,6.97),(0.038,10.81),(0.038,5.91),(0.039,7.67),(0.0397,7.31),(0.0404,8.57),(0.0414,5.17),(0.0424,7.77),(0.0431,9.11),(0.0431,4.51),(0.0437,4.17),(0.0448,6.24),(0.0458,6.04),(0.0464,7.24),(0.0471,5.51),(0.0481,8.33),(0.0481,6.71),(0.0491,6.57),(0.0498,2.44),(0.0505,2.11),(0.0505,5.11),(0.0515,4.17),(0.0515,3.97),(0.0515,5.51),(0.0525,6.51),(0.0532,7.27),(0.0538,7.71),(0.0548,8.17),(0.0559,4.84),(0.0565,6.71),(0.0572,8.24),(0.0582,8.31),(0.0582,5.37),(0.0592,6.15),(0.0599,4.57),(0.0606,7.71),(0.0616,7.0),(0.0626,5.77),(0.0633,8.51),(0.0633,6.37),(0.0639,5.51),(0.0649,8.44),(0.066,5.11),(0.0666,6.71),(0.0673,6.24),(0.0683,8.31),(0.0693,5.64),(0.07,8.57),(0.0707,6.11),(0.0717,8.04),(0.0727,7.04),(0.0734,5.77),(0.074,8.64),(0.075,6.73),(0.076,3.71),(0.0784,8.97),(0.0794,4.71),(0.0801,7.64),(0.0808,4.57),(0.0818,6.84),(0.0818,5.37),(0.0828,8.84),(0.0828,6.64),(0.0835,1.27),(0.0841,4.91),(0.0851,7.31),(0.0861,8.57),(0.0861,5.51),(0.0868,7.51),(0.0875,9.35),(0.0885,7.17),(0.0895,7.91),(0.0902,7.44),(0.0909,4.04),(0.0909,6.04),(0.0919,7.57),(0.0929,4.91),(0.0935,4.71),(0.0952,5.51),(0.0962,7.24),(0.0976,5.11),(0.0986,5.71),(0.0996,4.97),(0.1003,4.71),(0.101,5.91),(0.102,6.24),(0.103,6.04),(0.1043,8.64),(0.1053,3.11),(0.1063,4.17),(0.107,6.71),(0.1077,5.91),(0.1087,5.57),(0.1097,7.17),(0.1104,8.87),(0.111,8.24),(0.1121,6.71),(0.1131,7.24),(0.1137,6.44),(0.1154,5.77),(0.1164,6.11),(0.1178,5.64),(0.1188,7.31),(0.1198,7.44),(0.1232,5.64),(0.1238,7.57),(0.1255,9.11),(0.1265,7.51),(0.1272,6.17),(0.1299,6.71),(0.1306,9.8),(0.1322,7.17),(0.1333,5.91),(0.1346,4.51),(0.1356,7.71),(0.1366,8.15),(0.1373,9.11),(0.138,7.24),(0.14,9.13),(0.1413,8.81),(0.1423,7.53),(0.144,9.57),(0.1447,7.97),(0.1467,4.04),(0.1491,8.57),(0.1514,4.41),(0.1514,6.57),(0.1558,9.11),(0.1568,7.77),(0.1582,9.04),(0.1602,8.68),(0.1608,6.11),(0.1649,7.37),(0.1676,7.71),(0.1676,4.11),(0.1693,9.51),(0.1716,4.71),(0.176,6.44),(0.177,8.68),(0.1777,8.17),(0.1827,7.04),(0.1861,10.01),(0.1861,8.07),(0.1871,8.01),(0.1945,9.11),(0.1938,6.37),(0.1995,6.11),(0.2012,7.97),(0.2039,10.68),(0.208,8.41),(0.2221,8.51),(0.2231,9.31),(0.2241,4.47),(0.2382,8.31),(0.2467,8.04),(0.2467,7.0),(0.2483,10.41),(0.25,10.2),(0.25,8.71)]

cib_b = [(0.0,4.22),(0.0002,6.18),(0.0005,5.79),(0.0007,3.5),(0.0007,4.74),(0.001,4.61),(0.0012,7.23),(0.0015,6.31),(0.0018,7.36),(0.0023,7.72),(0.0025,6.05),(0.0028,5.4),(0.0031,4.15),(0.0035,4.09),(0.0038,6.84),(0.0041,4.41),(0.0041,8.58),(0.0044,8.15),(0.0044,7.43),(0.0046,7.1),(0.0046,4.94),(0.0049,6.27),(0.0049,5.72),(0.0052,4.41),(0.0052,5.13),(0.0054,8.06),(0.0056,4.87),(0.0059,1.4),(0.0062,7.49),(0.0064,6.12),(0.0066,5.33),(0.0069,4.28),(0.0073,6.05),(0.0077,5.53),(0.008,8.63),(0.0083,8.28),(0.0085,5.46),(0.0087,4.67),(0.009,7.95),(0.009,3.1),(0.009,2.38),(0.0093,2.81),(0.0093,8.9),(0.0095,6.38),(0.0095,7.4),(0.0097,3.1),(0.01,5.46),(0.01,5.99),(0.0104,4.02),(0.0104,3.89),(0.0106,7.72),(0.0108,4.54),(0.0111,6.58),(0.0111,8.58),(0.0114,10.05),(0.0116,5.59),(0.0118,9.46),(0.0118,2.12),(0.0121,7.62),(0.0121,6.38),(0.0124,5.0),(0.0126,6.77),(0.0128,10.73),(0.0128,3.86),(0.0132,2.51),(0.0132,7.03),(0.0135,9.07),(0.0135,5.99),(0.0137,8.61),(0.0139,4.48),(0.0142,5.62),(0.0142,5.13),(0.0145,8.34),(0.0147,6.64),(0.0149,4.87),(0.0152,4.61),(0.0155,7.75),(0.0157,4.81),(0.016,8.08),(0.0163,5.59),(0.0166,5.85),(0.0168,6.77),(0.017,5.2),(0.0173,6.09),(0.0176,6.75),(0.0178,5.59),(0.018,5.33),(0.0183,7.45),(0.0186,4.94),(0.0189,5.72),(0.0194,6.18),(0.0197,3.76),(0.0199,8.67),(0.0201,9.81),(0.0201,5.33),(0.0204,9.37),(0.0207,4.99),(0.0209,6.51),(0.0211,7.98),(0.0214,7.43),(0.0214,9.2),(0.0218,8.93),(0.022,5.85),(0.0222,4.28),(0.0225,8.34),(0.0228,3.76),(0.023,7.3),(0.0232,6.77),(0.0235,8.34),(0.0235,3.56),(0.0238,10.42),(0.024,5.46),(0.0242,8.34),(0.0246,7.62),(0.0249,6.97),(0.0253,5.99),(0.0256,8.8),(0.0259,4.81),(0.0261,8.02),(0.0263,3.95),(0.0266,4.74),(0.0269,6.38),(0.0271,8.74),(0.0273,6.12),(0.0273,3.5),(0.0277,5.79),(0.0277,1.73),(0.028,2.45),(0.0282,8.67),(0.0284,5.33),(0.0284,4.02),(0.0287,4.48),(0.0292,4.67),(0.0297,7.43),(0.0303,7.32),(0.0308,8.19),(0.0311,3.23),(0.0313,7.14),(0.0315,8.15),(0.0318,5.2),(0.0318,3.1),(0.0321,9.16),(0.0323,6.77),(0.0325,7.1),(0.0325,5.92),(0.0328,4.28),(0.0332,5.79),(0.0334,5.59),(0.0339,6.51),(0.0342,7.56),(0.0344,4.87),(0.0344,1.27),(0.0346,4.15),(0.0349,8.28),(0.0352,7.1),(0.0356,5.46),(0.0359,7.69),(0.0365,8.61),(0.037,6.12),(0.0377,10.86),(0.038,10.18),(0.038,8.61),(0.0383,5.53),(0.0391,3.17),(0.0394,4.74),(0.0396,7.56),(0.0404,8.58),(0.0406,9.0),(0.0406,3.5),(0.0408,7.19),(0.0411,6.58),(0.0414,7.98),(0.0419,6.25),(0.0422,5.99),(0.0425,5.4),(0.0425,4.57),(0.0427,3.89),(0.0432,7.43),(0.0439,8.67),(0.0442,5.59),(0.0445,7.45),(0.0448,5.2),(0.0456,4.02),(0.046,9.33),(0.0463,5.07),(0.0468,7.27),(0.047,5.59),(0.0479,4.96),(0.0497,4.12),(0.0497,7.36),(0.0505,6.64),(0.0508,5.59),(0.0525,7.62),(0.0528,9.1),(0.053,8.67),(0.053,5.75),(0.0532,7.49),(0.0536,6.97),(0.0539,9.33),(0.0541,7.93),(0.0543,6.8),(0.0546,6.71),(0.0556,5.49),(0.0559,7.17),(0.0562,9.13),(0.0562,7.72),(0.0564,6.44),(0.0564,8.9),(0.057,6.44),(0.0574,7.17),(0.058,7.06),(0.0584,6.97),(0.0591,2.74),(0.0603,6.64),(0.0639,8.58),(0.0657,7.4),(0.0663,6.54),(0.0691,6.27),(0.0719,5.46),(0.074,5.59),(0.0746,6.71),(0.0753,9.59),(0.0771,8.58)]

cib_cd4 = [(0.0044,2.51),(0.0055,1.2),(0.0062,3.13),(0.007,4.87),(0.0077,4.18),(0.0066,5.53),(0.0088,5.33),(0.0099,5.59),(0.011,3.76),(0.0121,5.53),(0.0127,3.69),(0.0136,8.58),(0.0143,6.54),(0.0149,8.15),(0.0149,5.92),(0.0154,5.33),(0.0158,4.54),(0.0176,5.59),(0.0182,7.23),(0.0187,7.19),(0.0198,5.59),(0.0209,4.48),(0.0215,1.4),(0.0224,8.02),(0.0224,7.69),(0.0231,6.12),(0.0237,9.26),(0.0237,4.7),(0.0242,7.16),(0.0246,3.73),(0.0253,5.4),(0.0259,4.35),(0.0264,3.89),(0.0268,5.59),(0.0275,6.97),(0.0281,2.08),(0.0281,5.0),(0.0286,4.81),(0.029,5.72),(0.0297,4.41),(0.0303,3.63),(0.0308,9.07),(0.0312,6.14),(0.0319,8.15),(0.0319,4.28),(0.0325,4.61),(0.033,8.58),(0.0334,7.75),(0.0341,5.07),(0.0347,4.28),(0.0347,7.23),(0.0352,7.56),(0.0356,4.22),(0.0363,7.69),(0.0363,2.77),(0.0369,5.66),(0.0374,4.22),(0.0378,6.8),(0.0385,2.45),(0.0391,7.98),(0.0391,5.46),(0.0396,5.72),(0.04,7.16),(0.0407,6.64),(0.0413,5.33),(0.0418,5.07),(0.0422,4.61),(0.0429,7.36),(0.0435,3.82),(0.044,5.53),(0.0444,9.39),(0.0451,6.31),(0.0451,5.0),(0.0457,7.23),(0.0462,4.81),(0.0466,5.46),(0.0473,2.45),(0.0479,10.73),(0.0479,7.45),(0.0484,5.2),(0.0488,4.15),(0.0495,5.99),(0.0495,3.5),(0.0501,7.43),(0.0505,9.52),(0.051,5.36),(0.0516,3.13),(0.0523,6.31),(0.0527,8.21),(0.0527,4.61),(0.0532,5.0),(0.0538,8.34),(0.0538,3.95),(0.0545,7.16),(0.0549,5.66),(0.0554,3.1),(0.056,7.69),(0.0567,5.0),(0.0571,6.77),(0.0576,7.23),(0.0582,4.67),(0.0589,5.92),(0.0593,7.43),(0.0598,5.33),(0.0604,8.63),(0.0611,7.89),(0.0615,6.25),(0.062,4.74),(0.0626,6.9),(0.0633,8.21),(0.0637,6.31),(0.0642,2.71),(0.0648,9.13),(0.0648,3.82),(0.0655,6.9),(0.0659,7.62),(0.0664,6.25),(0.067,8.28),(0.0677,4.54),(0.0681,6.77),(0.0686,6.25),(0.0692,8.67),(0.0699,7.62),(0.0703,6.38),(0.0714,8.28),(0.0721,7.62),(0.0725,9.0),(0.073,5.79),(0.0736,5.99),(0.0743,9.0),(0.0747,3.95),(0.0752,3.04),(0.0758,5.99),(0.0765,6.41),(0.0769,9.81),(0.0774,10.83),(0.0774,5.46),(0.078,3.52),(0.078,6.38),(0.0787,4.02),(0.0791,6.9),(0.0802,4.28),(0.0809,6.64),(0.0813,5.85),(0.0824,7.82),(0.0831,4.61),(0.084,8.61),(0.0846,6.8),(0.0853,5.0),(0.0857,8.67),(0.0862,5.46),(0.0868,7.03),(0.0875,7.62),(0.0879,8.67),(0.0884,6.97),(0.089,7.43),(0.0897,10.02),(0.0901,8.02),(0.0905,6.64),(0.0912,6.05),(0.0923,5.07),(0.0927,8.77),(0.0934,7.62),(0.0941,9.39),(0.0945,5.92),(0.095,5.79),(0.0956,5.46),(0.0963,8.93),(0.0967,7.89),(0.0971,1.79),(0.0978,7.56),(0.0985,5.62),(0.0993,8.74),(0.1,5.62),(0.1,8.21),(0.1007,6.44),(0.1015,8.37),(0.1022,4.09),(0.1029,7.16),(0.1037,7.23),(0.1044,9.13),(0.1055,5.59),(0.1066,5.79),(0.1081,6.9),(0.1099,5.0),(0.1116,4.05),(0.1143,7.53),(0.1187,7.23),(0.1213,5.59),(0.1235,8.24),(0.1242,6.54),(0.1279,7.62),(0.1341,9.16),(0.1345,5.92),(0.1352,6.48),(0.1352,7.03),(0.1396,4.09),(0.1407,7.49),(0.1418,6.35),(0.1433,7.36),(0.1543,10.44),(0.156,8.58),(0.1565,9.39),(0.1593,8.5),(0.1593,7.27),(0.162,9.16)]

cib_cd8 = [(0,7.43),(0,7.23),(0,7.1),(0,6.71),(0,6.44),(0,6.25),(0,5.99),(0,5.85),(0,5.66),(0,5.53),(0,5.4),(0,5.27),(0,5.07),(0,4.94),(0,4.81),(0,4.67),(0,4.48),(0,3.95),(0,3.5),(0,3.1),(0,2.51),(0,1.27),(0.0004,3.1),(0.0007,3.23),(0.0011,6.75),(0.0007,6.27),(0.0013,7.69),(0.0018,3.5),(0.0021,8.61),(0.0026,7.49),(0.0026,5.0),(0.0029,5.99),(0.0029,4.67),(0.0029,9.29),(0.0032,6.44),(0.0032,5.33),(0.0034,2.45),(0.0036,7.16),(0.0036,4.22),(0.0039,4.54),(0.0039,6.77),(0.0043,5.66),(0.0043,8.21),(0.0045,4.15),(0.0047,8.61),(0.0047,4.67),(0.005,6.18),(0.005,5.13),(0.005,3.95),(0.0053,5.66),(0.0053,10.05),(0.0055,7.69),(0.0055,4.54),(0.0058,3.82),(0.0061,8.63),(0.0061,5.33),(0.0064,6.18),(0.0066,8.34),(0.0068,7.36),(0.0068,3.1),(0.0071,5.85),(0.0071,4.96),(0.0075,7.19),(0.0075,4.22),(0.0077,8.08),(0.0079,6.97),(0.0079,4.81),(0.0082,3.63),(0.0082,8.61),(0.0085,5.59),(0.0087,6.64),(0.009,4.48),(0.0093,7.19),(0.0093,5.4),(0.0096,4.41),(0.0098,6.18),(0.01,7.62),(0.01,5.0),(0.0104,4.61),(0.0107,4.22),(0.0109,6.25),(0.0111,9.1),(0.0111,7.69),(0.0114,8.15),(0.0114,5.4),(0.0117,8.67),(0.012,7.36),(0.0122,5.2),(0.0122,3.76),(0.0125,4.54),(0.0125,8.28),(0.0128,6.25),(0.013,5.53),(0.0132,3.89),(0.0136,7.3),(0.0139,9.1),(0.0141,6.18),(0.0143,5.59),(0.0146,8.08),(0.0149,7.03),(0.0152,6.09),(0.0154,2.81),(0.0157,9.52),(0.0157,6.64),(0.016,8.61),(0.0162,5.59),(0.0164,7.49),(0.0168,8.61),(0.0171,6.61),(0.0173,4.41),(0.0175,2.74),(0.0178,7.69),(0.0178,6.12),(0.0181,6.8),(0.0184,3.78),(0.0186,10.77),(0.0186,4.94),(0.0189,8.15),(0.0192,7.43),(0.0194,5.7),(0.0196,3.91),(0.02,9.81),(0.02,8.24),(0.0203,6.51),(0.0205,4.54),(0.0207,6.18),(0.021,4.22),(0.0213,7.3),(0.0216,6.25),(0.0218,8.71),(0.0221,5.46),(0.0224,1.4),(0.0226,7.69),(0.0228,9.13),(0.0232,9.39),(0.0235,6.05),(0.0237,7.69),(0.0242,7.49),(0.0245,6.64),(0.0248,8.41),(0.025,5.72),(0.0253,6.38),(0.0256,7.16),(0.0258,4.96),(0.026,8.34),(0.0264,7.43),(0.0267,4.09),(0.0269,6.97),(0.0271,8.61),(0.0274,6.8),(0.0277,8.9),(0.028,5.07),(0.0282,7.49),(0.0285,8.9),(0.0288,7.82),(0.0292,6.64),(0.0299,7.49),(0.0303,10.83),(0.0306,6.8),(0.0309,7.69),(0.0314,7.56),(0.0317,5.79),(0.0322,5.59),(0.0324,4.05),(0.0328,8.67),(0.0333,7.23),(0.0341,9.1),(0.0352,3.26),(0.036,8.67),(0.0365,7.32),(0.037,6.97),(0.0378,6.44),(0.0381,7.43),(0.0384,5.4),(0.0384,4.96),(0.0386,8.71),(0.0392,4.74),(0.0402,5.27),(0.0408,7.95),(0.041,7.16),(0.0413,5.59),(0.0418,6.9),(0.0424,6.64),(0.0429,3.13),(0.0434,5.79),(0.0437,7.16),(0.044,8.8),(0.0448,6.51),(0.0461,8.61),(0.0463,7.58),(0.0469,7.95),(0.0474,5.79),(0.0477,7.16),(0.0482,8.24),(0.0484,6.31),(0.0491,7.3),(0.0495,5.92),(0.0501,8.41),(0.0514,7.43),(0.053,7.69),(0.0534,8.74),(0.0536,7.49),(0.0544,5.75),(0.0557,7.1),(0.0562,4.94),(0.0562,4.65),(0.0566,9.13),(0.0568,3.95),(0.0562,1.73),(0.0605,5.92),(0.0623,9.33),(0.0634,2.12),(0.064,10.44),(0.0642,2.42),(0.0672,5.83),(0.068,5.62),(0.0706,8.41),(0.0725,8.54),(0.0736,7.58),(0.0754,7.89),(0.0758,9.59),(0.0762,6.27),(0.0786,6.64),(0.0794,4.09)]

cib_mac = [(0.01,7.69),(0.0116,5.62),(0.0127,4.7),(0.0143,3.82),(0.0165,2.51),(0.0181,3.76),(0.0197,4.81),(0.0208,3.17),(0.0218,3.1),(0.0235,5.2),(0.0235,3.63),(0.0251,4.87),(0.0261,4.22),(0.0272,7.32),(0.0288,4.41),(0.0288,4.81),(0.0304,4.96),(0.0315,5.0),(0.0326,1.24),(0.0326,5.59),(0.0342,3.5),(0.0358,7.4),(0.0369,5.99),(0.038,3.82),(0.0396,3.89),(0.0396,5.72),(0.0412,5.23),(0.0423,5.72),(0.045,4.54),(0.0466,9.1),(0.0477,6.71),(0.0487,5.53),(0.0504,2.74),(0.052,4.22),(0.053,5.72),(0.0541,2.45),(0.0557,9.29),(0.0557,5.75),(0.0573,7.4),(0.0584,4.05),(0.0595,5.0),(0.0611,4.41),(0.0627,5.36),(0.0638,3.95),(0.0649,6.77),(0.0665,4.28),(0.0681,8.24),(0.0681,1.4),(0.0692,6.05),(0.0703,4.15),(0.0719,7.98),(0.0719,7.06),(0.0735,2.38),(0.0735,4.67),(0.0746,8.15),(0.0756,5.33),(0.0756,3.73),(0.0773,7.16),(0.0789,6.67),(0.0789,4.74),(0.0799,5.59),(0.081,7.69),(0.081,8.54),(0.0826,4.7),(0.0842,8.61),(0.0853,5.99),(0.0853,4.61),(0.0864,4.54),(0.088,3.23),(0.088,7.62),(0.0896,5.33),(0.0907,6.48),(0.0918,6.93),(0.0934,3.82),(0.0934,5.0),(0.095,7.56),(0.0961,6.05),(0.0972,4.54),(0.0988,9.37),(0.0988,8.37),(0.1004,5.44),(0.1015,7.32),(0.1025,6.38),(0.1042,5.33),(0.1058,7.56),(0.1068,4.15),(0.1079,5.27),(0.1095,6.97),(0.1111,3.82),(0.1122,5.99),(0.1133,5.07),(0.1149,7.23),(0.1165,6.18),(0.1176,8.15),(0.1187,4.22),(0.1203,7.69),(0.1219,2.05),(0.1219,3.1),(0.123,5.66),(0.1241,7.43),(0.1257,6.25),(0.1273,8.34),(0.1284,7.16),(0.1294,4.54),(0.1311,9.07),(0.1311,6.64),(0.1327,7.62),(0.1337,5.59),(0.1348,4.15),(0.1364,8.61),(0.138,5.85),(0.1391,5.2),(0.1402,6.97),(0.1418,4.41),(0.1434,8.34),(0.1445,5.59),(0.1456,6.25),(0.1472,6.77),(0.1488,5.2),(0.1499,4.09),(0.151,4.02),(0.1526,7.56),(0.1542,6.77),(0.1553,4.74),(0.158,6.71),(0.1596,8.93),(0.1606,8.8),(0.1617,4.61),(0.1633,7.19),(0.165,5.99),(0.166,4.65),(0.1687,10.83),(0.1703,8.9),(0.1714,7.75),(0.1725,10.73),(0.1741,8.63),(0.1757,7.62),(0.1768,6.75),(0.1779,5.0),(0.1795,6.8),(0.1811,8.63),(0.1822,7.89),(0.1832,9.39),(0.1849,6.14),(0.1865,6.9),(0.1875,10.02),(0.1886,3.13),(0.1886,5.44),(0.1902,7.53),(0.1918,9.81),(0.1929,5.79),(0.194,5.4),(0.1956,7.56),(0.1972,6.67),(0.1983,6.38),(0.1994,8.15),(0.201,2.81),(0.2026,4.96),(0.2037,5.99),(0.2048,7.49),(0.2064,8.61),(0.208,7.1),(0.2091,8.02),(0.2101,6.31),(0.2118,5.72),(0.2134,6.9),(0.2144,4.44),(0.2155,6.12),(0.2171,8.61),(0.2171,4.05),(0.2187,7.89),(0.2198,7.49),(0.2209,7.16),(0.2225,6.01),(0.2252,7.23),(0.2295,9.52),(0.2317,8.41),(0.2333,6.38),(0.2349,7.1),(0.2371,6.44),(0.2413,6.25),(0.2424,7.43),(0.244,8.19),(0.244,5.62),(0.2457,7.93),(0.2467,7.75),(0.2478,6.58),(0.2494,6.12),(0.251,7.36),(0.2521,9.1),(0.2532,6.58),(0.2564,7.32),(0.2602,5.13),(0.2655,8.67),(0.2655,6.38),(0.2682,6.05),(0.2693,5.79),(0.2709,5.59),(0.2725,8.63),(0.2747,6.41),(0.2779,5.92),(0.279,8.77),(0.2833,8.9),(0.2871,7.62),(0.2898,8.67),(0.2951,4.7),(0.2951,4.12),(0.2962,8.08),(0.2994,8.67),(0.3016,9.16),(0.3032,10.21),(0.3059,9.33),(0.3194,8.41),(0.3247,6.71),(0.3317,7.56),(0.3328,5.27),(0.3339,5.66),(0.3301,9.13),(0.3371,9.1),(0.3409,10.42),(0.35,8.02),(0.3554,7.49),(0.357,8.02),(0.3662,9.59),(0.3678,8.02),(0.3715,8.24),(0.3748,8.74),(0.3732,8.5),(0.3758,8.32),(0.3839,7.0),(0.3866,8.58),(0.40,8.06)]

panel_data = [[epic_b, epic_cd4, epic_cd8, epic_mac],
              [timer_b, timer_cd4, timer_cd8, timer_mac],
              [cib_b, cib_cd4, cib_cd8, cib_mac]]

# ---------------- layout (pixels of the 1416x1073 canvas) ----------------
W, H = 1416, 1073
col_left = [38, 354, 671, 987]
ax_w = 271
row_top = [46, 402, 757]
ax_h = 266
stat_left = [[128, 442, 749, 1069], [128, 442, 758, 1069], [128, 442, 758, 1069]]
letters = ["A", "B", "C"]
letter_y = [15, 368, 728]
method_pos = [(1262, 178), (1262, 535), (1250, 890)]

fig = plt.figure(figsize=(W / 100, H / 100), dpi=100)
fig.patch.set_facecolor("white")

for r in range(3):
    for c in range(4):
        left = col_left[c] / W
        bottom = 1 - (row_top[r] + ax_h) / H
        ax = fig.add_axes([left, bottom, ax_w / W, ax_h / H])
        df = pd.DataFrame(panel_data[r][c], columns=["x", "y"])
        sns.regplot(data=df, x="x", y="y", ax=ax, ci=95, n_boot=1000, seed=3,
                    scatter_kws=dict(s=30, color="black", alpha=1, linewidths=0, zorder=2),
                    line_kws=dict(color="#3366FF", lw=1.1, zorder=4))
        for coll in ax.collections:
            if isinstance(coll, PolyCollection):
                coll.set_facecolor((0.6, 0.6, 0.6, 0.4))
                coll.set_edgecolor("none")
                coll.set_zorder(3)
        ax.set_ylim(0.79, 11.24)
        ax.set_yticks(y_ticks)
        ax.set_xticks(x_ticks[r][c])
        ax.xaxis.set_major_formatter(FormatStrFormatter(x_fmt[r][c]))
        for side in ["top", "right"]:
            ax.spines[side].set_visible(False)
        for side in ["left", "bottom"]:
            ax.spines[side].set_color("black")
            ax.spines[side].set_linewidth(1.0)
        ax.tick_params(axis="both", length=3.5, width=1, color="black",
                       labelsize=11.5, labelcolor="#222222", pad=2)
        ax.set_xlabel(cell_types[c], fontsize=14, labelpad=4, color="black")
        ax.set_ylabel(r"$\mathit{VGLL3}$ (log2 normalized read count)",
                      fontsize=12.3, labelpad=3, color="black")
        ax.text((stat_left[r][c] - col_left[c]) / ax_w, 1.02, stats[r][c],
                transform=ax.transAxes, ha="left", va="center", fontsize=14,
                color="black")

for r in range(3):
    fig.text(12 / W, 1 - letter_y[r] / H, letters[r], fontsize=17,
             fontweight="bold", ha="center", va="center")
    mx, my = method_pos[r]
    fig.text(mx / W, 1 - my / H, row_names[r], fontsize=20.5, ha="left",
             va="center", color="#222222")

fig.savefig("out.png", dpi=100, facecolor="white")
